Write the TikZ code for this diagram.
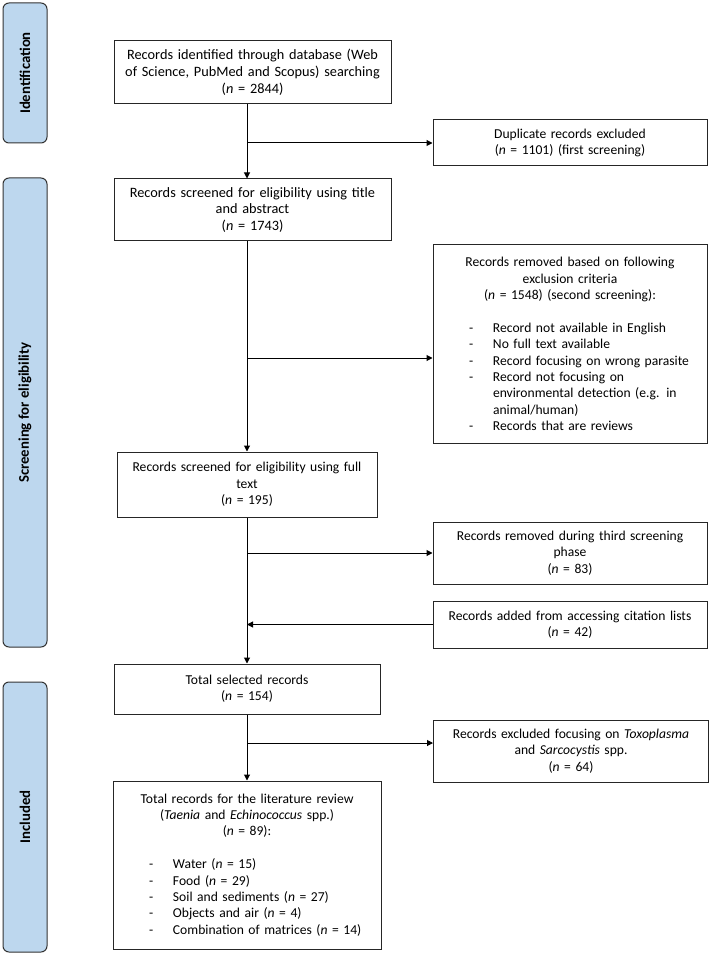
\documentclass[tikz,border=0pt]{standalone}
\usepackage{fontspec}
\setmainfont{Carlito}
\usetikzlibrary{arrows.meta}
\definecolor{barblue}{RGB}{189,215,238}
\newcommand\dashitem[1]{\par\leftskip=0pt\rightskip=0pt plus 1fil\parfillskip=0pt plus 1fil\noindent\hangindent=57pt\hangafter=1\hspace*{33pt}\makebox[24pt][l]{-}#1\par}
\begin{document}
\begin{tikzpicture}[x=1pt,y=-1pt,
		box/.style={draw=black!85,line width=1pt,fill=white,align=center,inner xsep=3pt,inner ysep=2pt,
			font=\fontsize{13.6pt}{16.4pt}\selectfont},
		bigbox/.style={box,font=\fontsize{14.3pt}{16.8pt}\selectfont},
		phase/.style={draw=black!80,line width=1pt,fill=barblue,rounded corners=6pt,rotate=90,
			minimum height=44pt,font=\bfseries\fontsize{14.8pt}{17pt}\selectfont},
		arr/.style={-{Triangle[length=6pt,width=6pt]},line width=1pt}]
		\useasboundingbox (0,0) rectangle (711,957);
		\begin{scope}
		\node[phase,minimum width=140pt] (idbar) at (25,73) {Identification};
		\node[phase,minimum width=469pt] (scrbar) at (25,412.5) {Screening for eligibility};
		\node[phase,minimum width=270pt] (incbar) at (25,817) {Included};
		\end{scope}
		\node[bigbox,text width=271pt,minimum height=63pt] (ident) at (252.5,72.5)
			{Records identified through database (Web\\of Science, PubMed and Scopus) searching\\(\textit{n} = 2844)};
		\node[box,text width=268pt,minimum height=46pt] (dupl) at (570,143)
			{Duplicate records excluded\\(\textit{n} = 1101) (first screening)};
		\node[bigbox,text width=271pt,minimum height=62pt] (titleabs) at (252.5,210)
			{Records screened for eligibility using title\\and abstract\\(\textit{n} = 1743)};
		\node[box,text width=268pt,minimum height=198pt] (crit) at (570,344)
			{Records removed based on following\\exclusion criteria\\(\textit{n} = 1548) (second screening):\\[16.4pt]
			\dashitem{Record not available in English}
			\dashitem{No full text available}
			\dashitem{Record focusing on wrong parasite}
			\dashitem{Record not focusing on\newline environmental detection (e.g. in\newline animal/human)}
			\dashitem{Records that are reviews}};
		\node[box,text width=254pt,minimum height=65pt] (fulltext) at (247,484.5)
			{Records screened for eligibility using full\\text\\(\textit{n} = 195)};
		\node[box,text width=268pt,minimum height=62pt] (third) at (570,553)
			{Records removed during third screening\\phase\\(\textit{n} = 83)};
		\node[box,text width=268pt,minimum height=47pt] (cite) at (570,624.5)
			{Records added from accessing citation lists\\(\textit{n} = 42)};
		\node[box,text width=260pt,minimum height=50pt] (total) at (247,689)
			{Total selected records\\(\textit{n} = 154)};
		\node[box,text width=269pt,minimum height=62pt] (toxo) at (571,751)
			{Records excluded focusing on \textit{Toxoplasma}\\and \textit{Sarcocystis} spp.\\(\textit{n} = 64)};
		\node[box,text width=262pt,minimum height=168pt] (final) at (247,865)
			{Total records for the literature review\\(\textit{Taenia} and \textit{Echinococcus} spp.)\\(\textit{n} = 89):\\[16.4pt]
			\dashitem{Water (\textit{n} = 15)}
			\dashitem{Food (\textit{n} = 29)}
			\dashitem{Soil and sediments (\textit{n} = 27)}
			\dashitem{Objects and air (\textit{n} = 4)}
			\dashitem{Combination of matrices (\textit{n} = 14)}};
		\coordinate (sp) at (247,0);
		\coordinate (critin) at ([yshift=-14pt]crit.west);
		\coordinate (toxoin) at ([yshift=8pt]toxo.west);
		\draw[arr] (ident.south -| sp) -- (titleabs.north -| sp);
		\draw[arr] (sp |- dupl.west) -- (dupl.west);
		\draw[arr] (titleabs.south -| sp) -- (fulltext.north);
		\draw[arr] (sp |- critin) -- (critin);
		\draw[arr] (fulltext.south) -- (total.north);
		\draw[arr] (sp |- third.west) -- (third.west);
		\draw[arr] (cite.west) -- (sp |- cite.west);
		\draw[arr] (total.south) -- (final.north);
		\draw[arr] (sp |- toxoin) -- (toxoin);
\end{tikzpicture}
\end{document}
